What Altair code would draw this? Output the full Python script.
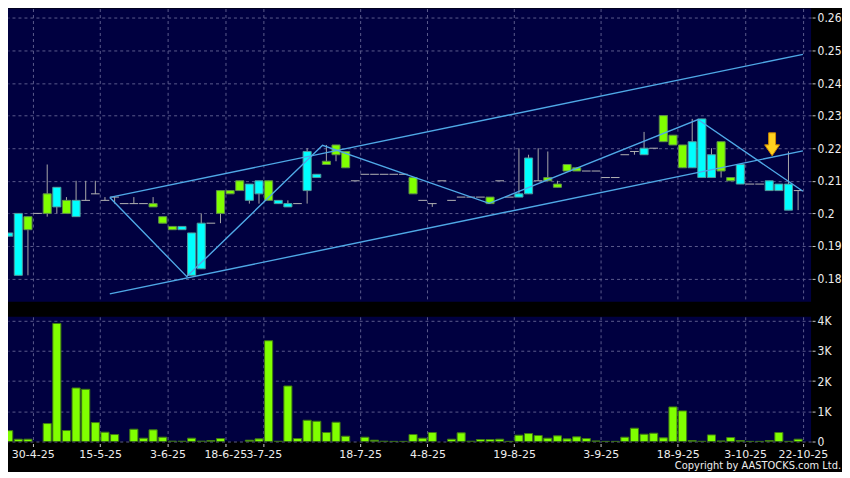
import altair as alt
import pandas as pd

# ---------------- data ----------------
opens = [0.194, 0.200, 0.195, 0.200, 0.200, 0.208, 0.200, 0.204, 0.204, 0.206,
         0.204, 0.205, 0.203, 0.203, 0.203, 0.202, 0.197, 0.195, 0.196, 0.194,
         0.197, 0.197, 0.200, 0.206, 0.207, 0.209, 0.210, 0.204, 0.204, 0.203,
         0.203, 0.219, 0.212, 0.215, 0.218, 0.214, 0.210, 0.212, 0.212, 0.212,
         0.212, 0.212, 0.206, 0.204, 0.203, 0.210, 0.204, 0.205, 0.205, 0.205,
         0.203, 0.210, 0.205, 0.206, 0.217, 0.210, 0.210, 0.208, 0.213, 0.213,
         0.213, 0.213, 0.211, 0.211, 0.218, 0.219, 0.220, 0.220, 0.222, 0.221,
         0.214, 0.222, 0.229, 0.218, 0.213, 0.210, 0.215, 0.209, 0.209, 0.210,
         0.209, 0.209, 0.207]
closes = [0.193, 0.181, 0.199, 0.200, 0.206, 0.202, 0.204, 0.199, 0.204, 0.206,
          0.204, 0.205, 0.203, 0.203, 0.203, 0.203, 0.199, 0.196, 0.195, 0.181,
          0.183, 0.197, 0.207, 0.207, 0.210, 0.204, 0.206, 0.210, 0.203, 0.202,
          0.203, 0.207, 0.211, 0.216, 0.221, 0.219, 0.210, 0.212, 0.212, 0.212,
          0.212, 0.212, 0.211, 0.204, 0.203, 0.210, 0.204, 0.205, 0.205, 0.205,
          0.205, 0.210, 0.205, 0.205, 0.206, 0.210, 0.211, 0.209, 0.215, 0.214,
          0.213, 0.213, 0.211, 0.211, 0.218, 0.219, 0.218, 0.220, 0.230, 0.224,
          0.221, 0.214, 0.211, 0.211, 0.222, 0.211, 0.209, 0.209, 0.209, 0.207,
          0.207, 0.201, 0.207]
highs = [0.194, 0.200, 0.199, 0.200, 0.215, 0.208, 0.205, 0.210, 0.210, 0.210,
         0.205, 0.205, 0.203, 0.205, 0.203, 0.205, 0.199, 0.196, 0.196, 0.194,
         0.200, 0.197, 0.207, 0.207, 0.210, 0.209, 0.210, 0.210, 0.204, 0.204,
         0.203, 0.220, 0.212, 0.221, 0.221, 0.219, 0.210, 0.212, 0.212, 0.212,
         0.212, 0.212, 0.211, 0.204, 0.203, 0.210, 0.204, 0.205, 0.205, 0.205,
         0.205, 0.210, 0.205, 0.220, 0.218, 0.220, 0.219, 0.210, 0.215, 0.214,
         0.213, 0.213, 0.211, 0.211, 0.218, 0.219, 0.225, 0.220, 0.230, 0.224,
         0.221, 0.229, 0.229, 0.220, 0.222, 0.211, 0.215, 0.209, 0.209, 0.210,
         0.209, 0.219, 0.207]
lows = [0.193, 0.181, 0.181, 0.200, 0.199, 0.200, 0.200, 0.199, 0.204, 0.206,
        0.204, 0.203, 0.203, 0.203, 0.203, 0.202, 0.197, 0.195, 0.195, 0.181,
        0.183, 0.197, 0.197, 0.206, 0.207, 0.203, 0.203, 0.204, 0.203, 0.202,
        0.203, 0.203, 0.211, 0.215, 0.216, 0.214, 0.210, 0.212, 0.212, 0.212,
        0.212, 0.212, 0.206, 0.204, 0.202, 0.210, 0.204, 0.205, 0.205, 0.205,
        0.203, 0.210, 0.205, 0.205, 0.206, 0.210, 0.210, 0.208, 0.213, 0.213,
        0.213, 0.213, 0.211, 0.211, 0.218, 0.218, 0.218, 0.220, 0.222, 0.221,
        0.214, 0.214, 0.211, 0.211, 0.211, 0.210, 0.209, 0.209, 0.209, 0.207,
        0.207, 0.201, 0.201]
volumes = [360, 77, 77, 0, 595, 3912, 364, 1774, 1730, 628,
           309, 231, 0, 408, 110, 386, 143, 12, 10, 110,
           12, 33, 99, 0, 0, 44, 88, 3339, 8, 1840,
           99, 705, 672, 298, 639, 176, 0, 143, 44, 10,
           5, 5, 231, 110, 298, 0, 77, 287, 10, 66,
           66, 77, 5, 209, 264, 198, 110, 187, 88, 154,
           99, 20, 5, 5, 143, 441, 242, 275, 121, 1146,
           1014, 33, 8, 220, 20, 132, 33, 5, 5, 33,
           298, 5, 77]

tick_pos = [2.5, 9.5, 16.5, 22.5, 26.5, 36.5, 43.5, 52.5, 61.5, 69.5, 76.5, 82.5]
tick_labels = ["30-4-25", "15-5-25", "3-6-25", "18-6-25", "3-7-25", "18-7-25",
               "4-8-25", "19-8-25", "3-9-25", "18-9-25", "3-10-25", "22-10-25"]
price_ticks = [0.18, 0.19, 0.20, 0.21, 0.22, 0.23, 0.24, 0.25, 0.26]
vol_ticks = [0, 1000, 2000, 3000, 4000]

channel_x = [10.5, 82.5]
upper_y = [0.2049, 0.2488]
lower_y = [0.1753, 0.2192]
zig_x = [10.5, 18.5, 32.6, 49.9, 71.6, 82.5]
zig_y = [0.2049, 0.1806, 0.2209, 0.2031, 0.2288, 0.2068]
arrow_x = [79.3]
arrow_y = [0.2212]

# ---------------- styling ----------------
LIME = "#80ff00"
LIME_EDGE = "#5e8f48"
CYAN = "#00ffff"
CYAN_EDGE = "#4f9c9c"
VOL_EDGE = "#3f7a12"
WICK = "#a8a8a8"
LINE = "#4fa8e6"
GRID = "#5a5a8c"
TEXT = "#eeeeee"
COND = "'DejaVu Sans Condensed', 'DejaVu Sans', sans-serif"
SANS = "'DejaVu Sans', sans-serif"

n = len(opens)
dirs = ["up" if c > o else ("down" if c < o else "flat") for o, c in zip(opens, closes)]
candles = pd.DataFrame({"i": list(range(n)), "open": opens, "close": closes,
                        "high": highs, "low": lows, "vol": volumes, "dir": dirs})

PLOT_W = 805
xs = alt.Scale(domain=[-0.0725, -0.0725 + PLOT_W / 9.65], nice=False, zero=False)
ys = alt.Scale(domain=[0.17286, 0.26285], nice=False, zero=False)
vs = alt.Scale(domain=[0, 4132], nice=False, zero=False)

grid_kw = dict(grid=True, gridColor=GRID, gridDash=[3, 3], gridWidth=1, gridOpacity=1)
yaxis_kw = dict(orient="right", ticks=True, tickSize=3, tickColor="#c8c8c8",
                tickWidth=1, offset=1, domain=False, title=None, labelPadding=2,
                labelFont=COND, labelFontSize=12, labelColor=TEXT)

price_x_axis = alt.Axis(values=tick_pos, labels=False, ticks=False, domain=False,
                        title=None, **grid_kw)
price_y_axis = alt.Axis(values=price_ticks,
                        labelExpr="format(datum.value, '.2~f')",
                        **yaxis_kw, **grid_kw)

lab_arr = "[" + ",".join("'%s'" % t for t in tick_labels) + "]"
pos_arr = "[" + ",".join(str(p) for p in tick_pos) + "]"
vol_x_axis = alt.Axis(values=tick_pos,
                      labelExpr=lab_arr + "[indexof(" + pos_arr + ", datum.value)]",
                      labelOverlap=False, labelFlush=False, labelFont=SANS,
                      labelFontSize=11, labelColor=TEXT, tickColor="#c8c8c8",
                      tickSize=3, offset=2, domain=False, labelPadding=2,
                      title=None, **grid_kw)
vol_y_axis = alt.Axis(values=vol_ticks,
                      labelExpr="datum.value == 0 ? '0' : format(datum.value / 1000, 'd') + 'K'",
                      **yaxis_kw, **grid_kw)


def px(field):
    return alt.X(field, scale=xs, axis=price_x_axis)


def py(field):
    return alt.Y(field, scale=ys, axis=price_y_axis)


base = alt.Chart(candles)

wicks = base.transform_filter("datum.high > datum.low").mark_rule(
    color=WICK, strokeWidth=1, clip=True).encode(
    x=px("i:Q"), y=py("low:Q"), y2="high:Q")

doji = base.transform_filter("datum.open == datum.close").transform_calculate(
    a="datum.i - 0.45", b="datum.i + 0.45").mark_rule(
    color="#b4b4b4", strokeWidth=1, clip=True).encode(
    x=px("a:Q"), x2="b:Q", y=py("close:Q"))

bodies = base.transform_filter("datum.open != datum.close").transform_calculate(
    a="datum.i - 0.42", b="datum.i + 0.42").mark_rect(strokeWidth=1, clip=True).encode(
    x=px("a:Q"), x2="b:Q",
    y=py("open:Q"), y2="close:Q",
    fill=alt.Fill("dir:N", scale=alt.Scale(domain=["up", "down"], range=[LIME, CYAN]), legend=None),
    stroke=alt.Stroke("dir:N", scale=alt.Scale(domain=["up", "down"], range=[LIME_EDGE, CYAN_EDGE]), legend=None))

chan = pd.DataFrame({"x": channel_x + channel_x, "y": upper_y + lower_y,
                     "line": ["upper", "upper", "lower", "lower"]})
chan_layer = alt.Chart(chan).mark_line(color=LINE, strokeWidth=1.4, clip=True).encode(
    x=px("x:Q"), y=py("y:Q"), detail="line:N")

zig = pd.DataFrame({"x": zig_x, "y": zig_y})
zig_layer = alt.Chart(zig).mark_line(color=LINE, strokeWidth=1.4, clip=True).encode(
    x=px("x:Q"), y=py("y:Q"))

ARROW = "M-0.3,-1 L0.3,-1 L0.3,0.05 L0.65,0.05 L0,1 L-0.65,0.05 L-0.3,0.05 Z"
arrow = alt.Chart(pd.DataFrame({"x": arrow_x, "y": arrow_y})).mark_point(
    shape=ARROW, size=529, filled=True, fill="#ffd21f", stroke="#d08a00",
    strokeWidth=1, opacity=1).encode(x=px("x:Q"), y=py("y:Q"))

price = alt.layer(wicks, doji, bodies, chan_layer, zig_layer, arrow).properties(
    width=PLOT_W, height=294)

vol_bars = base.transform_filter("datum.vol > 0").transform_calculate(
    a="datum.i - 0.42", b="datum.i + 0.42").mark_rect(
    fill=LIME, stroke=VOL_EDGE, strokeWidth=1, clip=True).encode(
    x=alt.X("a:Q", scale=xs, axis=vol_x_axis), x2="b:Q",
    y=alt.Y("vol:Q", scale=vs, axis=vol_y_axis), y2=alt.datum(0))

volume = vol_bars.properties(width=PLOT_W, height=125)

chart = alt.vconcat(price, volume, spacing=12).properties(
    padding=0, background="#000000",
    title=alt.TitleParams("Copyright by AASTOCKS.com Ltd.", orient="bottom",
                          anchor="end", font=COND, fontSize=11,
                          fontWeight="normal", color=TEXT, offset=1),
).configure_view(fill="#000040", strokeWidth=0)

chart.save("out.html", embed_options={"renderer": "svg", "actions": False})
